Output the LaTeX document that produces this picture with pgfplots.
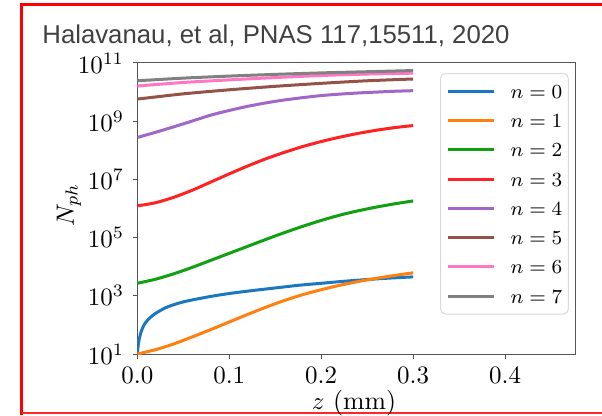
\documentclass[border=0pt]{standalone}
\usepackage{fontspec}
\usepackage{pgfplots}
\pgfplotsset{compat=1.18}
\newfontfamily\titlefont{Liberation Sans}
\definecolor{c0}{HTML}{1A78C2}
\definecolor{c1}{HTML}{FF800E}
\definecolor{c2}{HTML}{10A010}
\definecolor{c3}{HTML}{FF2222}
\definecolor{c4}{HTML}{A066C8}
\definecolor{c5}{HTML}{955248}
\definecolor{c6}{HTML}{FF77C4}
\definecolor{c7}{HTML}{808080}
\definecolor{frame}{HTML}{555555}
\begin{document}
\begin{tikzpicture}
\useasboundingbox (0,0) rectangle (240.8pt,166pt);
\draw[red, line width=1.2pt] (8pt,164pt) -- (240.8pt,164pt);
\draw[red, line width=1.2pt] (8.6pt,164.6pt) -- (8.6pt,0pt);
\draw[red!85, line width=0.5pt] (8.6pt,0.8pt) -- (240.8pt,0.8pt);
\node[font=\titlefont\fontsize{10.3}{12}\selectfont, text=black!75, anchor=base, inner sep=0pt] at (110.4pt,148.6pt) {Halavanau, et al, PNAS 117,15511, 2020};
\begin{axis}[
  at={(54.92pt,24.4pt)}, anchor=south west,
  scale only axis, width=175.08pt, height=116.4pt,
  xmin=0, xmax=0.476, ymode=log, ymin=10, ymax=1e11,
  xtick={0,0.1,0.2,0.3,0.4},
  xticklabel style={/pgf/number format/.cd,fixed,fixed zerofill,precision=1},
  ytick={1e1,1e3,1e5,1e7,1e9,1e11},
  minor ytick={},
  tick align=outside, xtick pos=bottom, ytick pos=left,
  major tick length=1.8pt,
  axis line style={frame, line width=0.4pt},
  tick style={frame, line width=0.4pt},
  every tick label/.append style={font=\fontsize{10.3}{12}\selectfont},
  xlabel={$z$ (mm)}, ylabel={$N_{ph}$},
  label style={font=\fontsize{10.3}{12}\selectfont},
  xlabel style={at={(axis description cs:0.495,-0.168)}, anchor=center},
  ylabel style={at={(axis description cs:-0.156,0.512)}, anchor=center, rotate=0},
  legend cell align=left,
  legend image code/.code={\draw[#1, line width=1.2pt] (0pt,0pt) -- (18.4pt,0pt);},
  legend style={at={(axis description cs:0.6916,0.9656)}, anchor=north west,
    draw=black!15, rounded corners=2pt, fill=white,
    inner xsep=2.4pt, inner ysep=4.4pt, row sep=6.2pt, column sep=6pt,
    font=\fontsize{8.4}{9}\selectfont,
    nodes={inner sep=0pt, text height=5.5pt, text depth=0pt}},
  every axis plot/.append style={line width=1.2pt, line join=round, smooth, tension=0.4},
]
\addplot[c0] coordinates {(0,10) (0.001,20) (0.002,31.6) (0.004,56) (0.007,95) (0.01,132) (0.015,190) (0.02,251) (0.03,380) (0.04,500) (0.05,617) (0.06,724) (0.08,955) (0.1,1200) (0.125,1510) (0.15,1860) (0.175,2290) (0.2,2690) (0.225,3160) (0.25,3630) (0.275,4070) (0.3,4470)};
\addlegendentry{$n=0$}
\addplot[c1] coordinates {(0,10) (0.02,14.1) (0.04,22.4) (0.06,38.9) (0.08,69.2) (0.1,126) (0.12,229) (0.14,407) (0.16,692) (0.18,1096) (0.2,1622) (0.22,2291) (0.24,3090) (0.26,3981) (0.28,5012) (0.3,6166)};
\addlegendentry{$n=1$}
\addplot[c2] coordinates {(0,2690) (0.02,3720) (0.04,5750) (0.06,9550) (0.08,16600) (0.1,28800) (0.12,50100) (0.14,87100) (0.16,148000) (0.18,245000) (0.2,389000) (0.22,589000) (0.24,832000) (0.26,1.12e6) (0.28,1.45e6) (0.3,1.82e6)};
\addlegendentry{$n=2$}
\addplot[c3] coordinates {(0,1.23e6) (0.02,1.58e6) (0.04,2.45e6) (0.06,4.27e6) (0.08,8.13e6) (0.1,1.55e7) (0.12,2.88e7) (0.14,5.13e7) (0.16,8.51e7) (0.18,1.35e8) (0.2,2.0e8) (0.22,2.82e8) (0.24,3.80e8) (0.26,4.90e8) (0.28,6.03e8) (0.3,7.08e8)};
\addlegendentry{$n=3$}
\addplot[c4] coordinates {(0,2.75e8) (0.02,4.17e8) (0.04,6.46e8) (0.06,1.02e9) (0.08,1.62e9) (0.1,2.34e9) (0.12,3.24e9) (0.14,4.27e9) (0.16,5.37e9) (0.18,6.46e9) (0.2,7.59e9) (0.22,8.51e9) (0.24,9.33e9) (0.26,1.0e10) (0.28,1.07e10) (0.3,1.12e10)};
\addlegendentry{$n=4$}
\addplot[c5] coordinates {(0,5.75e9) (0.05,8.71e9) (0.1,1.20e10) (0.15,1.58e10) (0.2,2.0e10) (0.25,2.45e10) (0.3,2.82e10)};
\addlegendentry{$n=5$}
\addplot[c6] coordinates {(0,1.62e10) (0.05,2.14e10) (0.1,2.63e10) (0.15,3.16e10) (0.2,3.72e10) (0.25,4.17e10) (0.3,4.47e10)};
\addlegendentry{$n=6$}
\addplot[c7] coordinates {(0,2.45e10) (0.05,3.02e10) (0.1,3.55e10) (0.15,4.07e10) (0.2,4.57e10) (0.25,5.01e10) (0.3,5.50e10)};
\addlegendentry{$n=7$}
\end{axis}
\end{tikzpicture}
\end{document}
